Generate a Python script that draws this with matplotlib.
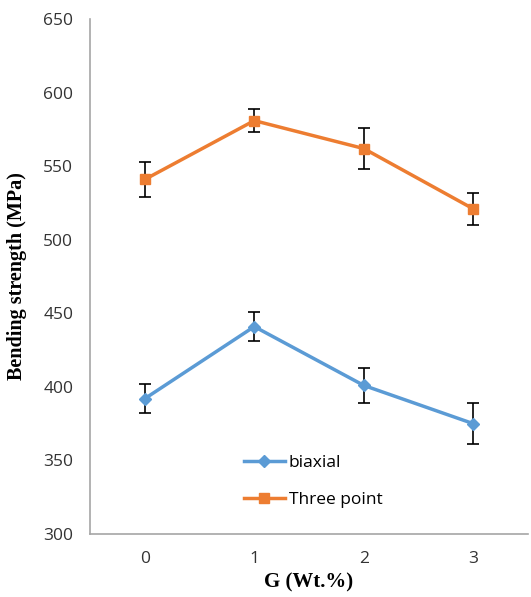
import matplotlib.pyplot as plt
import numpy as np

g_wt = ['0', '1', '2', '3']
biaxial = [392, 441, 401, 375]
biaxial_err = [10, 10, 12, 14]
three_point = [541, 581, 562, 521]
three_point_err = [12, 8, 14, 11]

x = np.arange(len(g_wt))

fig = plt.figure(figsize=(5.31, 5.97), dpi=100)
ax = fig.add_axes([0.1695, 0.1055, 0.825, 0.8625])

ax.errorbar(x, biaxial, yerr=biaxial_err, color='#5B9BD5', lw=2.5, marker='D',
            ms=6, ecolor='black', elinewidth=1.2, capsize=4, capthick=1.2, label='biaxial')
ax.errorbar(x, three_point, yerr=three_point_err, color='#ED7D31', lw=2.5, marker='s',
            ms=7, ecolor='black', elinewidth=1.2, capsize=4, capthick=1.2, label='Three point')

ax.set_xlim(-0.5, 3.5)
ax.set_ylim(300, 650)
ax.set_yticks(np.arange(300, 651, 50))
ax.set_xticks(x)
ax.set_xticklabels(g_wt)

for s in ['top', 'right']:
    ax.spines[s].set_visible(False)
for s in ['left', 'bottom']:
    ax.spines[s].set_color('#a6a6a6')
    ax.spines[s].set_linewidth(1.2)
ax.tick_params(length=0, labelsize=12.5, labelcolor='#333333', pad=12)
for lab in ax.get_xticklabels() + ax.get_yticklabels():
    lab.set_family('Open Sans')

ax.set_ylabel('Bending strength (MPa)', family='Liberation Serif', fontweight='bold',
              fontsize=14.5, labelpad=12)
ax.set_xlabel('G (Wt.%)', family='Liberation Serif', fontweight='bold', fontsize=15, labelpad=4)

handles, labels = ax.get_legend_handles_labels()
handles = [h[0] for h in handles]
leg = ax.legend(handles, labels, loc='center left', bbox_to_anchor=(0.315, 0.102), frameon=False,
                prop={'family': 'Open Sans', 'size': 12.5}, handlelength=2.4, handletextpad=0.2,
                labelspacing=1.2)

fig.savefig('out.png', dpi=100)
